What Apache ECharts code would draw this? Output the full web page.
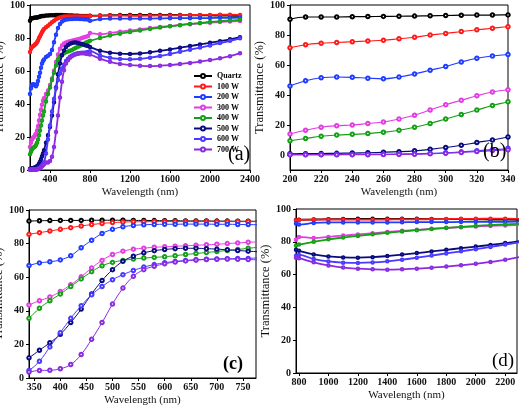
<!DOCTYPE html>
<html><head><meta charset="utf-8">
<script src="https://cdn.jsdelivr.net/npm/echarts@6/dist/echarts.min.js"></script>
<style>html,body{margin:0;padding:0;background:#fff}#c{width:520px;height:407px}</style>
</head><body><div id="c"></div>
<script>
// Wavelengths (nm) at which values were read
const wavelengths = [
  200,210,220,230,240,250,260,270,280,290,300,310,320,330,340,
  360,380,400,420,440,460,480,500,520,540,560,580,600,620,640,660,680,700,720,740,760,780,
  800,900,1000,1100,1200,1300,1400,1500,1600,1700,1800,1900,2000,2100,2200,2300
];
const seriesNames = ['Quartz','100 W','200 W','300 W','400 W','500 W','600 W','700 W'];

const quartz = [
  90.5,92,92,92,92.2,92.3,92.4,92.5,92.6,92.8,93,93.2,93.3,93.3,93.4,
  93.6,93.7,93.8,93.8,93.8,93.9,93.9,93.9,93.9,93.8,93.8,93.7,93.6,93.6,93.5,93.5,93.5,93.4,93.4,93.3,93.3,93.3,
  93.5,93.6,93.8,93.9,94,94,94,94,94,93.9,93.8,93.8,93.7,93.6,93.5,93.4
];
const w100 = [
  71.5,73.5,74.5,75,75.5,76,76.5,77.5,78.5,80,81,82.3,83.5,84.5,85.5,
  86.5,87.5,88.5,89.5,90.5,91.3,92,92.5,92.8,93,93,93.1,93.1,93.1,93.1,93.1,93.1,93.1,93.1,93.1,93.1,93.1,
  93.3,93.5,93.6,93.6,93.5,93.5,93.6,93.7,93.7,93.8,93.9,94,94,94.1,94.1,94
];
const w200 = [
  46,49.5,51.5,52,51.8,51.2,50.8,52,54,56.5,59,62,64.5,66,67,
  68.5,69.2,70.3,72.8,77.5,82,86,88.5,90,90.8,91.2,91.4,91.5,91.5,91.6,91.6,91.6,91.5,91.5,91.4,91.3,91.2,
  90.5,91.5,91.8,91.8,91.8,91.8,91.8,91.9,92,92,92,92.1,92.1,92.2,92.2,92.3
];
const w300 = [
  14,16.5,18.5,19.5,20,21,22,24,26.5,30,33.5,36.5,39.5,42,43.5,
  46,48.2,51.5,55.5,60.2,65.5,70,73.5,75.5,76.7,77.3,77.8,78.1,78.4,78.7,79,79.3,79.6,80,80.4,80.8,81.2,
  83,82.3,83,83.8,84.5,85.2,86,86.7,87.3,87.9,88.4,88.9,89.3,89.7,90,90.3
];
const w400 = [
  9.5,11,12.5,13.3,13.8,14.3,15.2,16.5,18.5,21,24,27,30,33,35.5,
  41.5,46,50,54.5,59,63.3,66.8,68.8,70,70.8,71.4,71.8,72.2,72.8,73.5,74.1,74.7,75.3,75.9,76.5,77.2,77.8,
  78.3,80,81.5,82.6,83.6,84.6,85.5,86.3,87.1,87.8,88.5,89.1,89.7,90.2,90.6,91
];
const w500 = [
  0.8,0.9,1,1.1,1.3,1.5,1.8,2.2,2.8,3.8,5,6.5,8.3,10,12,
  16.5,21,26,33,41,50,58,64.5,69.5,72.5,74.5,75.8,76.5,77,77.2,77.2,77,76.7,76.3,75.9,75.5,75.1,
  74.5,72.3,71.1,70.5,70.3,70.6,71.3,72.2,73.1,74.1,75.1,76.1,77.1,78.1,79.2,80.5
];
const w600 = [
  0.3,0.3,0.3,0.3,0.4,0.4,0.5,0.6,0.8,1.1,1.5,2.1,2.8,3.6,4.5,
  10,18.5,27,35.5,43,49.5,54.5,58.5,61.5,64,66,67.5,68.6,69.4,70,70.4,70.7,70.9,71,71.1,71.2,71.5,
  72,69.5,68,67.3,67.1,67.4,68.1,69.1,70.3,71.6,72.9,74.2,75.5,76.9,78.3,79.8
];
const w700 = [
  0.2,0.2,0.2,0.2,0.2,0.2,0.3,0.4,0.5,0.8,1.2,1.7,2.3,2.9,3.5,
  4.5,4.6,5.5,8,14,23,33,44,53.5,60.5,64.5,66.5,68,69,69.7,70.2,70.5,70.7,70.8,70.7,70.5,70.3,
  70,67.5,65.6,64.3,63.6,63.2,63,63.2,63.6,64.2,64.9,65.7,66.6,67.7,69,70.8
];
const seriesValues = [quartz, w100, w200, w300, w400, w500, w600, w700];

const yTicks = [0,20,40,60,80,100];
const xTicksA = [400,800,1200,1600,2000,2400];
const xTicksB = [200,220,240,260,280,300,320,340];
const xTicksC = [350,400,450,500,550,600,650,700,750];
const xTicksD = [800,1000,1200,1400,1600,1800,2000,2200];
const panelLabels = ['(a)','(b)','(c)','(d)'];

const colors = ['#000000','#ff1a1a','#1f3cff','#e23de2','#14a014','#0a0a80','#4a3aff','#8a2be2'];
const FONT = 'Liberation Serif';

const grids = [
  {left:30, top:5, width:220, height:165},
  {left:290, top:5, width:218, height:165},
  {left:29, top:210, width:227, height:168},
  {left:296, top:209, width:221, height:164}
].map(g => Object.assign({show:true, borderColor:'#000', borderWidth:1, backgroundColor:'transparent', outerBoundsMode:'none', containLabel:false}, g));

const xRanges = [[200,2400],[200,340],[340,775],[780,2280]];
const xTickSets = [xTicksA, xTicksB, xTicksC, xTicksD];
const yRanges = [[0,100],[-10,100],[0,100],[0,100]];
const plain = v => String(v);

const xAxes = xRanges.map((r,i) => ({
  type:'value', gridIndex:i, min:r[0], max:r[1],
  name:'Wavelength (nm)', nameLocation:'middle', nameGap: 17,
  nameTextStyle:{fontFamily:FONT, fontSize:11, color:'#111'},
  axisLine:{show:true, onZero:false, lineStyle:{color:'#000', width:1}},
  axisTick:{show:true, length:3, customValues:xTickSets[i], lineStyle:{color:'#000'}},
  axisLabel:{show:true, margin:4, customValues:xTickSets[i], formatter:plain, fontFamily:FONT, fontWeight:'bold', fontSize:10, color:'#111'},
  splitLine:{show:false}
}));
const yAxes = yRanges.map((r,i) => ({
  type:'value', gridIndex:i, min:r[0], max:r[1],
  name:'Transmittance (%)', nameLocation:'middle', nameGap: 22,
  nameTextStyle:{fontFamily:FONT, fontSize:12.5, color:'#111'},
  axisLine:{show:true, onZero:false, lineStyle:{color:'#000', width:1}},
  axisTick:{show:true, length:3, customValues:yTicks, lineStyle:{color:'#000'}},
  axisLabel:{show:true, margin:5, customValues:yTicks, formatter:plain, fontFamily:FONT, fontWeight:'bold', fontSize:10, color:'#111'},
  splitLine:{show:false}
}));

const lineW = [1.8, 1.2, 1, 1.8];
const symS = [2.5, 3.5, 3.5, 2.5];
const series = [];
for (let p = 0; p < 4; p++) {
  seriesNames.forEach((n, k) => {
    series.push({
      type:'line', name:n, xAxisIndex:p, yAxisIndex:p,
      data: wavelengths.map((w, i) => [w, seriesValues[k][i]]),
      smooth:0.4, clip:true, animation:false,
      symbol:'emptyCircle', symbolSize:symS[p], showSymbol:true,
      lineStyle:{color:colors[k], width:lineW[p]},
      itemStyle:{color:colors[k], borderWidth:0.7},
      z: 2 + k
    });
  });
}

const labelPos = [[228,145,20,'normal'],[483,142,20,'normal'],[223,355,18,'bold'],[492,352,19,'normal']];
const graphic = panelLabels.map((t,i) => ({
  type:'text', left:labelPos[i][0], top:labelPos[i][1], z:100,
  style:{text:t, fontFamily:FONT, fontSize:labelPos[i][2], fontWeight:labelPos[i][3], fill:'#000'}
}));

const chart = echarts.init(document.getElementById('c'), null, {renderer:'canvas'});
chart.setOption({
  backgroundColor:'#fff',
  animation:false,
  grid:grids, xAxis:xAxes, yAxis:yAxes, series:series, graphic:graphic,
  legend:{
    data:seriesNames, orient:'vertical', left:193, top:72, padding:0,
    itemWidth:18, itemHeight:5, itemGap:2.5,
    itemStyle:{borderWidth:0.8},
    textStyle:{fontFamily:FONT, fontWeight:'bold', fontSize:8, lineHeight:8, color:'#000'}
  }
});
</script></body></html>
